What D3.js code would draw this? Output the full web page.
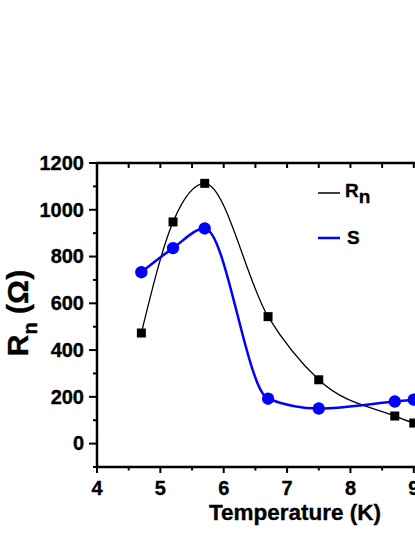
<!DOCTYPE html>
<html>
<head>
<meta charset="utf-8">
<script src="https://cdn.jsdelivr.net/npm/d3@7"></script>
<style>
  html, body { margin: 0; padding: 0; background: #fff; }
  svg { display: block; font-family: Arial, "Liberation Sans", sans-serif; font-weight: bold; }
  svg text { stroke: #000; stroke-width: 0.35px; }
</style>
</head>
<body>
<div id="root"></div>
<script>
// temperatures (K)
const temps = [4.7, 5.2, 5.7, 6.7, 7.5, 8.7, 9.0];
// R_n (ohm), black squares
const rnValues = [473, 948, 1113, 543, 273, 118, 88];
// S, blue circles
const sValues = [733, 836, 920, 192, 150, 180, 188];
const xTicks = [4, 5, 6, 7, 8, 9, 10];
const yTicks = [0, 200, 400, 600, 800, 1000, 1200];

const width = 415, height = 537;
const margins = { top: 163, left: 97, bottom: 70, right: -78 };

const svg = d3.select("#root").append("svg")
  .attr("width", width).attr("height", height)
  .attr("viewBox", `0 0 ${width} ${height}`);

const x = d3.scaleLinear().domain([4, 10.25]).range([margins.left, width - margins.right]);
const y = d3.scaleLinear().domain([-100, 1200]).range([height - margins.bottom, margins.top]);

const x0 = x.range()[0], x1 = x.range()[1];
const y0 = y.range()[0], y1 = y.range()[1];

// minor ticks
const xMinor = d3.range(4.5, 10.25, 1);
const yMinor = d3.range(-100, 1200, 200);

const axes = svg.append("g").attr("stroke", "#000").attr("stroke-width", 2);

// bottom axis
axes.append("line").attr("x1", x0 - 1).attr("x2", x1).attr("y1", y0).attr("y2", y0).attr("stroke-width", 2.5);
axes.selectAll(".xt").data(xTicks).join("line")
  .attr("x1", d => x(d)).attr("x2", d => x(d)).attr("y1", y0).attr("y2", y0 + 6);
axes.selectAll(".xm").data(xMinor).join("line")
  .attr("x1", d => x(d)).attr("x2", d => x(d)).attr("y1", y0).attr("y2", y0 + 3.5);

// top axis (ticks inward)
axes.append("line").attr("x1", x0 - 1).attr("x2", x1).attr("y1", y1).attr("y2", y1).attr("stroke-width", 2.5);
axes.selectAll(".xtt").data(xTicks.concat(xMinor)).join("line")
  .attr("x1", d => x(d)).attr("x2", d => x(d)).attr("y1", y1).attr("y2", y1 + 5);

// left axis
axes.append("line").attr("x1", x0).attr("x2", x0).attr("y1", y0 + 1).attr("y2", y1 - 1).attr("stroke-width", 2.5);
axes.selectAll(".yt").data(yTicks).join("line")
  .attr("x1", x0).attr("x2", x0 - 8).attr("y1", d => y(d)).attr("y2", d => y(d));
axes.selectAll(".ym").data(yMinor).join("line")
  .attr("x1", x0).attr("x2", x0 - 4).attr("y1", d => y(d)).attr("y2", d => y(d));

// tick labels
svg.append("g").selectAll("text").data(xTicks.filter(d => d <= 9)).join("text")
  .attr("x", d => x(d)).attr("y", y0 + 28)
  .attr("text-anchor", "middle").attr("font-size", 20)
  .text(d => d);

svg.append("g").selectAll("text").data(yTicks).join("text")
  .attr("x", x0 - 13).attr("y", d => y(d) + 6.8)
  .attr("text-anchor", "end").attr("font-size", 20)
  .text(d => d);

// axis titles
svg.append("text")
  .attr("x", 295).attr("y", 520)
  .attr("text-anchor", "middle").attr("font-size", 22.5)
  .text("Temperature (K)");

const yt = svg.append("text")
  .attr("transform", `translate(28, ${(y0 + y1) / 2 - 2}) rotate(-90)`)
  .attr("text-anchor", "middle").attr("font-size", 30);
yt.append("tspan").text("R");
yt.append("tspan").attr("font-size", 20).attr("dy", 9).text("n");
yt.append("tspan").attr("dy", -9).text(" (\u03A9)");

// curves
const line = d3.line()
  .x(d => x(d[0]))
  .y(d => y(d[1]))
  .curve(d3.curveMonotoneX);

const rnPts = temps.map((t, i) => [t, rnValues[i]]);
const sPts = temps.map((t, i) => [t, sValues[i]]);

svg.append("path").attr("d", line(rnPts))
  .attr("fill", "none").attr("stroke", "#000").attr("stroke-width", 1.3);
svg.append("path").attr("d", line(sPts))
  .attr("fill", "none").attr("stroke", "#0000ff").attr("stroke-width", 2.5);

svg.append("g").selectAll("rect").data(rnPts).join("rect")
  .attr("x", d => x(d[0]) - 4.5).attr("y", d => y(d[1]) - 4.5)
  .attr("width", 9).attr("height", 9).attr("fill", "#000");

svg.append("g").selectAll("circle").data(sPts).join("circle")
  .attr("cx", d => x(d[0])).attr("cy", d => y(d[1])).attr("r", 6.2)
  .attr("fill", "#0000ff");

// legend
const legend = svg.append("g");
legend.append("line").attr("x1", 318).attr("x2", 340).attr("y1", 193).attr("y2", 193)
  .attr("stroke", "#000").attr("stroke-width", 1.5);
const lr = legend.append("text").attr("x", 345).attr("y", 197).attr("font-size", 19);
lr.append("tspan").text("R");
lr.append("tspan").attr("dy", 6).text("n");
legend.append("line").attr("x1", 318).attr("x2", 340).attr("y1", 238).attr("y2", 238)
  .attr("stroke", "#0000ff").attr("stroke-width", 2.5);
legend.append("text").attr("x", 347).attr("y", 244).attr("font-size", 19).text("S");
</script>
</body>
</html>
